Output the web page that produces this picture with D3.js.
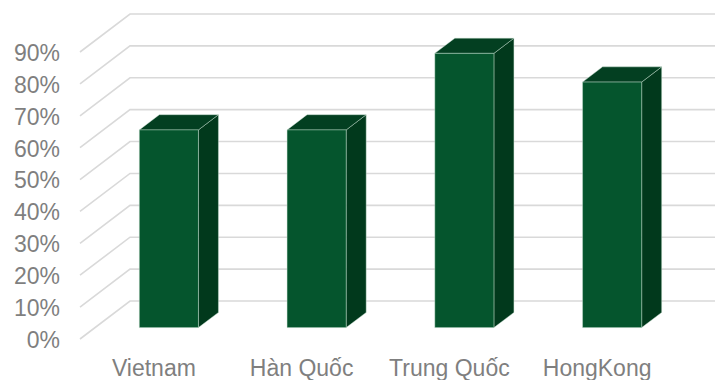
<!DOCTYPE html>
<html>
<head>
<meta charset="utf-8">
<script src="https://cdn.jsdelivr.net/npm/d3@7"></script>
<style>
  html, body { margin: 0; padding: 0; background: #ffffff; }
  svg { display: block; }
  text { font-family: "Liberation Sans", Arial, sans-serif; }
</style>
</head>
<body>
<svg id="chart" width="715" height="380"></svg>
<script>
// Share by market
const categories = ["Vietnam", "Hàn Quốc", "Trung Quốc", "HongKong"];
const values = [0.62, 0.62, 0.86, 0.77];
const tickValues = [0, 0.1, 0.2, 0.3, 0.4, 0.5, 0.6, 0.7, 0.8, 0.9];

const W = 715, H = 380;
const svg = d3.select("#chart");

// Front plane of the 3D box and the depth vector to its back wall
const x = d3.scaleBand().domain(categories).range([80, 671])
  .paddingInner(0.6).paddingOuter(0.3);
const y = d3.scaleLinear().domain([0, 0.9]).range([339, 52]);
const depth = { dx: 50, dy: -38 };
const barFront = 0.3, barBack = 0.7;   // bar position within the depth

// Wall gridlines: side wall diagonal + back wall horizontal
const grid = svg.append("g").attr("fill", "none")
  .attr("stroke", "#d9d9d9").attr("stroke-width", 1.6);
grid.selectAll("path").data(tickValues).join("path")
  .attr("d", v => {
    const y0 = y(v);
    return `M${x.range()[0]},${y0}L${x.range()[0] + depth.dx},${y0 + depth.dy}L${W},${y0 + depth.dy}`;
  });

// Y tick labels
const yAxis = svg.append("g").attr("transform", "translate(60,1)")
  .call(d3.axisLeft(y).tickValues(tickValues).tickSize(0).tickPadding(0)
    .tickFormat(d3.format(".0%")));
yAxis.select(".domain").remove();
yAxis.selectAll("text")
  .attr("fill", "#7f7f7f").style("font-size", "23px")
  .style("font-family", "'Liberation Sans', Arial, sans-serif");

// 3D columns
const fx = barFront * depth.dx, fy = barFront * depth.dy;
const bx = (barBack - barFront) * depth.dx, by = (barBack - barFront) * depth.dy;
const bars = svg.append("g").selectAll("g")
  .data(categories.map((c, i) => ({ c, v: values[i] })))
  .join("g")
  .attr("stroke", "rgba(200,225,210,0.55)").attr("stroke-width", 0.8)
  .attr("stroke-linejoin", "round");

bars.each(function (d) {
  const g = d3.select(this);
  const x0 = x(d.c) + fx, x1 = x0 + x.bandwidth();
  const yb = y(0) + fy, yt = y(d.v) + fy;
  // side face
  g.append("path").attr("fill", "#01391c")
    .attr("d", `M${x1},${yt}L${x1 + bx},${yt + by}L${x1 + bx},${yb + by}L${x1},${yb}Z`);
  // top face
  g.append("path").attr("fill", "#033f21")
    .attr("d", `M${x0},${yt}L${x0 + bx},${yt + by}L${x1 + bx},${yt + by}L${x1},${yt}Z`);
  // front face
  g.append("rect").attr("fill", "#05552d")
    .attr("x", x0).attr("y", yt).attr("width", x1 - x0).attr("height", yb - yt);
});

// Category labels along the front edge of the floor
svg.append("g").selectAll("text").data(categories).join("text")
  .attr("x", d => x(d) + x.bandwidth() / 2)
  .attr("y", 376)
  .attr("text-anchor", "middle")
  .attr("fill", "#7f7f7f")
  .style("font-size", "23px")
  .text(d => d);
</script>
</body>
</html>
